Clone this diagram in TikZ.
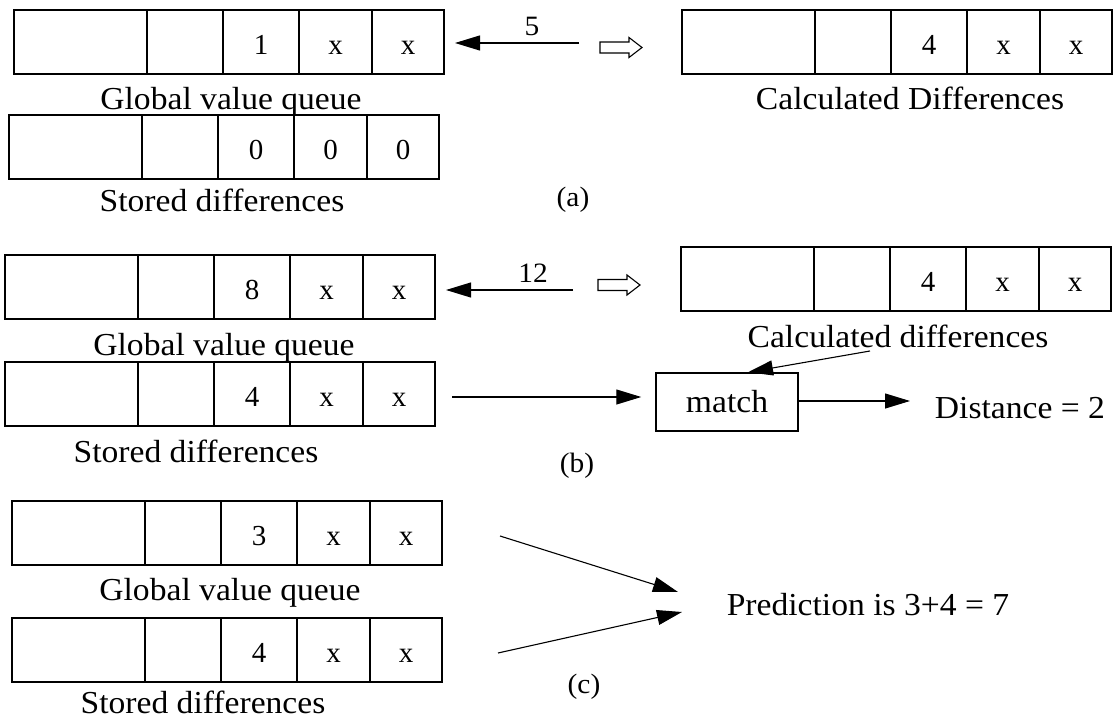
\documentclass[tikz,border=0pt]{standalone}
\usepackage{fontspec}
\setmainfont{Liberation Serif}
\newfontfamily\labfont[FakeStretch=1.05]{Liberation Serif}
\usetikzlibrary{arrows.meta,calc}
\tikzset{
  cell/.style={draw, line width=1.5pt, minimum height=64pt, inner sep=0pt, outer sep=0pt,
    text height=25pt, text depth=0pt,
    anchor=north west, font=\fontsize{29}{30}\selectfont},
  lab/.style={anchor=base, inner sep=0pt, font=\labfont\fontsize{32}{34}\selectfont},
  small/.style={anchor=base, inner sep=0pt, font=\labfont\fontsize{28}{30}\selectfont},
  arr/.style={line width=1.1pt, -{Triangle[length=25pt,width=15pt]}},
  hollow/.style={draw, line width=1.1pt},
  mbox/.style={draw, line width=1.5pt, minimum width=142pt, minimum height=58pt, inner sep=0pt,
    font=\labfont\fontsize{32}{34}\selectfont}
}
\newcommand\qrow[6]{%
  \node[cell,minimum width=133pt] (#1-1) at (#2,#3) {};
  \node[cell,minimum width=76pt] (#1-2) at (#1-1.north east) {};
  \node[cell,minimum width=76pt] (#1-3) at (#1-2.north east) {#4};
  \node[cell,minimum width=73pt] (#1-4) at (#1-3.north east) {#5};
  \node[cell,minimum width=72pt] (#1-5) at (#1-4.north east) {#6};
}
\begin{document}
\begin{tikzpicture}[x=1pt,y=-1pt]
\useasboundingbox (0,0) rectangle (1113,719);
% ---------- (a)
\qrow{ga}{14}{10}{1}{x}{x}
\qrow{sa}{9}{115}{0}{0}{0}
\qrow{ca}{682}{10}{4}{x}{x}
\node[lab] (lga) at (231,110) {Global value queue};
\node[lab] (lsa) at (222,212) {Stored differences};
\node[lab] (lca) at (910,110) {Calculated Differences};
\node[small] (pa) at (573,207) {(a)};
\node[small] (n5) at (532,36) {5};
\coordinate (a5s) at (579,43);
\draw[arr] (a5s) -- ([xshift=11pt,yshift=-1pt]ga-5.east);
\draw[hollow, shift={(600,47.5)}] (0,-5.5) -- (29,-5.5) -- (29,-10) -- (42,0) -- (29,10) -- (29,5.5) -- (0,5.5) -- cycle;
% ---------- (b)
\qrow{gb}{5}{255}{8}{x}{x}
\qrow{sb}{5}{362}{4}{x}{x}
\qrow{cb}{681}{247}{4}{x}{x}
\node[lab] (lgb) at (224,355) {Global value queue};
\node[lab] (lsb) at (196,462) {Stored differences};
\node[lab] (lcb) at (898,347) {Calculated differences};
\node[small] (pb) at (577,472) {(b)};
\node[small] (n12) at (533,282) {12};
\coordinate (b12s) at (573,290);
\draw[arr] (b12s) -- ([xshift=11pt,yshift=-3pt]gb-5.east);
\draw[hollow, shift={(598,285)}] (0,-5.5) -- (29,-5.5) -- (29,-10) -- (42,0) -- (29,10) -- (29,5.5) -- (0,5.5) -- cycle;
\node[mbox] (mt) at (727,402) {match};
\node[lab] (dist) at (1020,418) {Distance = 2};
\coordinate (cs) at (870,351);
\coordinate (dt) at (910,401);
\draw[arr] (cs) -- ([xshift=21pt]mt.north);
\draw[arr] ([xshift=17pt,yshift=-3pt]sb-5.east) -- ([xshift=-14pt,yshift=5pt]mt.west);
\draw[arr] (mt.east |- dt) -- (dt);
% ---------- (c)
\qrow{gc}{12}{501}{3}{x}{x}
\qrow{sc}{12}{618}{4}{x}{x}
\node[lab] (lgc) at (230,600) {Global value queue};
\node[lab] (lsc) at (203,713) {Stored differences};
\node[small] (pc) at (584,693) {(c)};
\node[lab] (pred) at (868,615) {Prediction is 3+4 = 7};
\coordinate (c1s) at (500,536);
\coordinate (c1t) at (678,592);
\coordinate (c2s) at (498,653);
\coordinate (c2t) at (682,612);
\draw[arr] (c1s) -- (c1t);
\draw[arr] (c2s) -- (c2t);
\end{tikzpicture}
\end{document}
